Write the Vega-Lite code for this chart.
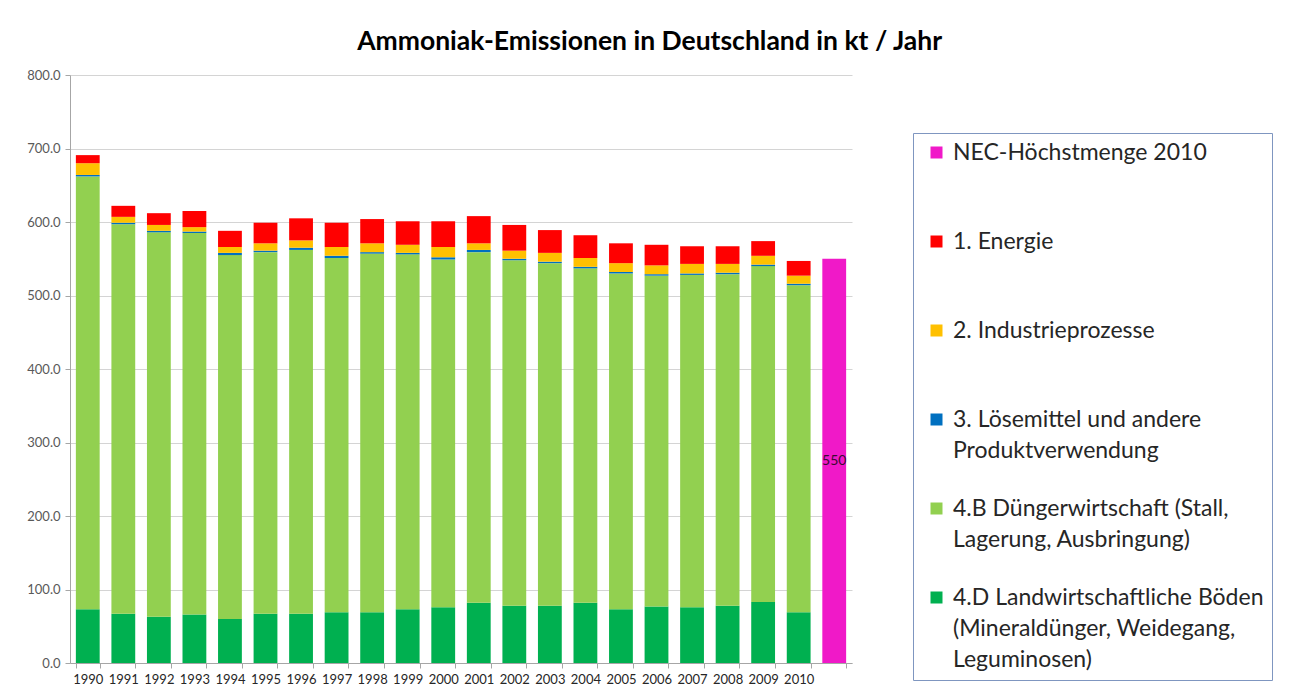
{
  "$schema": "https://vega.github.io/schema/vega-lite/v6.json",
  "width": 782,
  "height": 588,
  "padding": {"left": 26, "top": 28, "right": 5, "bottom": 5},
  "background": "white",
  "config": {
    "font": "Lato",
    "view": {"stroke": null},
    "style": {"guide-label": {"lineHeight": 31}}
  },
  "title": {
    "text": "Ammoniak-Emissionen in Deutschland in  kt / Jahr",
    "fontSize": 26.5,
    "fontWeight": "bold",
    "color": "#000000",
    "font": "Lato",
    "anchor": "middle",
    "frame": "bounds",
    "offset": 14
  },
  "data": {
    "values": [
      {"year": "1990", "category": "4.D Landwirtschaftliche Böden (Mineraldünger, Weidegang, Leguminosen)", "value": 73},
      {"year": "1990", "category": "4.B Düngerwirtschaft (Stall, Lagerung, Ausbringung)", "value": 589},
      {"year": "1990", "category": "3. Lösemittel und andere Produktverwendung", "value": 2},
      {"year": "1990", "category": "2. Industrieprozesse", "value": 16},
      {"year": "1990", "category": "1. Energie", "value": 11},
      {"year": "1991", "category": "4.D Landwirtschaftliche Böden (Mineraldünger, Weidegang, Leguminosen)", "value": 67},
      {"year": "1991", "category": "4.B Düngerwirtschaft (Stall, Lagerung, Ausbringung)", "value": 530},
      {"year": "1991", "category": "3. Lösemittel und andere Produktverwendung", "value": 2},
      {"year": "1991", "category": "2. Industrieprozesse", "value": 8},
      {"year": "1991", "category": "1. Energie", "value": 15},
      {"year": "1992", "category": "4.D Landwirtschaftliche Böden (Mineraldünger, Weidegang, Leguminosen)", "value": 63},
      {"year": "1992", "category": "4.B Düngerwirtschaft (Stall, Lagerung, Ausbringung)", "value": 523},
      {"year": "1992", "category": "3. Lösemittel und andere Produktverwendung", "value": 2},
      {"year": "1992", "category": "2. Industrieprozesse", "value": 8},
      {"year": "1992", "category": "1. Energie", "value": 16},
      {"year": "1993", "category": "4.D Landwirtschaftliche Böden (Mineraldünger, Weidegang, Leguminosen)", "value": 66},
      {"year": "1993", "category": "4.B Düngerwirtschaft (Stall, Lagerung, Ausbringung)", "value": 519},
      {"year": "1993", "category": "3. Lösemittel und andere Produktverwendung", "value": 2},
      {"year": "1993", "category": "2. Industrieprozesse", "value": 6},
      {"year": "1993", "category": "1. Energie", "value": 22},
      {"year": "1994", "category": "4.D Landwirtschaftliche Böden (Mineraldünger, Weidegang, Leguminosen)", "value": 60},
      {"year": "1994", "category": "4.B Düngerwirtschaft (Stall, Lagerung, Ausbringung)", "value": 495},
      {"year": "1994", "category": "3. Lösemittel und andere Produktverwendung", "value": 3},
      {"year": "1994", "category": "2. Industrieprozesse", "value": 8},
      {"year": "1994", "category": "1. Energie", "value": 22},
      {"year": "1995", "category": "4.D Landwirtschaftliche Böden (Mineraldünger, Weidegang, Leguminosen)", "value": 67},
      {"year": "1995", "category": "4.B Düngerwirtschaft (Stall, Lagerung, Ausbringung)", "value": 492},
      {"year": "1995", "category": "3. Lösemittel und andere Produktverwendung", "value": 2},
      {"year": "1995", "category": "2. Industrieprozesse", "value": 10},
      {"year": "1995", "category": "1. Energie", "value": 28},
      {"year": "1996", "category": "4.D Landwirtschaftliche Böden (Mineraldünger, Weidegang, Leguminosen)", "value": 67},
      {"year": "1996", "category": "4.B Düngerwirtschaft (Stall, Lagerung, Ausbringung)", "value": 495},
      {"year": "1996", "category": "3. Lösemittel und andere Produktverwendung", "value": 3},
      {"year": "1996", "category": "2. Industrieprozesse", "value": 10},
      {"year": "1996", "category": "1. Energie", "value": 30},
      {"year": "1997", "category": "4.D Landwirtschaftliche Böden (Mineraldünger, Weidegang, Leguminosen)", "value": 69},
      {"year": "1997", "category": "4.B Düngerwirtschaft (Stall, Lagerung, Ausbringung)", "value": 482},
      {"year": "1997", "category": "3. Lösemittel und andere Produktverwendung", "value": 3},
      {"year": "1997", "category": "2. Industrieprozesse", "value": 12},
      {"year": "1997", "category": "1. Energie", "value": 33},
      {"year": "1998", "category": "4.D Landwirtschaftliche Böden (Mineraldünger, Weidegang, Leguminosen)", "value": 69},
      {"year": "1998", "category": "4.B Düngerwirtschaft (Stall, Lagerung, Ausbringung)", "value": 488},
      {"year": "1998", "category": "3. Lösemittel und andere Produktverwendung", "value": 2},
      {"year": "1998", "category": "2. Industrieprozesse", "value": 12},
      {"year": "1998", "category": "1. Energie", "value": 33},
      {"year": "1999", "category": "4.D Landwirtschaftliche Böden (Mineraldünger, Weidegang, Leguminosen)", "value": 73},
      {"year": "1999", "category": "4.B Düngerwirtschaft (Stall, Lagerung, Ausbringung)", "value": 483},
      {"year": "1999", "category": "3. Lösemittel und andere Produktverwendung", "value": 2},
      {"year": "1999", "category": "2. Industrieprozesse", "value": 11},
      {"year": "1999", "category": "1. Energie", "value": 32},
      {"year": "2000", "category": "4.D Landwirtschaftliche Böden (Mineraldünger, Weidegang, Leguminosen)", "value": 76},
      {"year": "2000", "category": "4.B Düngerwirtschaft (Stall, Lagerung, Ausbringung)", "value": 473},
      {"year": "2000", "category": "3. Lösemittel und andere Produktverwendung", "value": 3},
      {"year": "2000", "category": "2. Industrieprozesse", "value": 14},
      {"year": "2000", "category": "1. Energie", "value": 35},
      {"year": "2001", "category": "4.D Landwirtschaftliche Böden (Mineraldünger, Weidegang, Leguminosen)", "value": 82},
      {"year": "2001", "category": "4.B Düngerwirtschaft (Stall, Lagerung, Ausbringung)", "value": 477},
      {"year": "2001", "category": "3. Lösemittel und andere Produktverwendung", "value": 3},
      {"year": "2001", "category": "2. Industrieprozesse", "value": 9},
      {"year": "2001", "category": "1. Energie", "value": 37},
      {"year": "2002", "category": "4.D Landwirtschaftliche Böden (Mineraldünger, Weidegang, Leguminosen)", "value": 78},
      {"year": "2002", "category": "4.B Düngerwirtschaft (Stall, Lagerung, Ausbringung)", "value": 470},
      {"year": "2002", "category": "3. Lösemittel und andere Produktverwendung", "value": 2},
      {"year": "2002", "category": "2. Industrieprozesse", "value": 11},
      {"year": "2002", "category": "1. Energie", "value": 35},
      {"year": "2003", "category": "4.D Landwirtschaftliche Böden (Mineraldünger, Weidegang, Leguminosen)", "value": 78},
      {"year": "2003", "category": "4.B Düngerwirtschaft (Stall, Lagerung, Ausbringung)", "value": 466},
      {"year": "2003", "category": "3. Lösemittel und andere Produktverwendung", "value": 2},
      {"year": "2003", "category": "2. Industrieprozesse", "value": 12},
      {"year": "2003", "category": "1. Energie", "value": 31},
      {"year": "2004", "category": "4.D Landwirtschaftliche Böden (Mineraldünger, Weidegang, Leguminosen)", "value": 82},
      {"year": "2004", "category": "4.B Düngerwirtschaft (Stall, Lagerung, Ausbringung)", "value": 455},
      {"year": "2004", "category": "3. Lösemittel und andere Produktverwendung", "value": 2},
      {"year": "2004", "category": "2. Industrieprozesse", "value": 12},
      {"year": "2004", "category": "1. Energie", "value": 31},
      {"year": "2005", "category": "4.D Landwirtschaftliche Böden (Mineraldünger, Weidegang, Leguminosen)", "value": 73},
      {"year": "2005", "category": "4.B Düngerwirtschaft (Stall, Lagerung, Ausbringung)", "value": 457},
      {"year": "2005", "category": "3. Lösemittel und andere Produktverwendung", "value": 2},
      {"year": "2005", "category": "2. Industrieprozesse", "value": 12},
      {"year": "2005", "category": "1. Energie", "value": 27},
      {"year": "2006", "category": "4.D Landwirtschaftliche Böden (Mineraldünger, Weidegang, Leguminosen)", "value": 77},
      {"year": "2006", "category": "4.B Düngerwirtschaft (Stall, Lagerung, Ausbringung)", "value": 450},
      {"year": "2006", "category": "3. Lösemittel und andere Produktverwendung", "value": 2},
      {"year": "2006", "category": "2. Industrieprozesse", "value": 12},
      {"year": "2006", "category": "1. Energie", "value": 28},
      {"year": "2007", "category": "4.D Landwirtschaftliche Böden (Mineraldünger, Weidegang, Leguminosen)", "value": 76},
      {"year": "2007", "category": "4.B Düngerwirtschaft (Stall, Lagerung, Ausbringung)", "value": 452},
      {"year": "2007", "category": "3. Lösemittel und andere Produktverwendung", "value": 2},
      {"year": "2007", "category": "2. Industrieprozesse", "value": 13},
      {"year": "2007", "category": "1. Energie", "value": 24},
      {"year": "2008", "category": "4.D Landwirtschaftliche Böden (Mineraldünger, Weidegang, Leguminosen)", "value": 78},
      {"year": "2008", "category": "4.B Düngerwirtschaft (Stall, Lagerung, Ausbringung)", "value": 451},
      {"year": "2008", "category": "3. Lösemittel und andere Produktverwendung", "value": 2},
      {"year": "2008", "category": "2. Industrieprozesse", "value": 12},
      {"year": "2008", "category": "1. Energie", "value": 24},
      {"year": "2009", "category": "4.D Landwirtschaftliche Böden (Mineraldünger, Weidegang, Leguminosen)", "value": 83},
      {"year": "2009", "category": "4.B Düngerwirtschaft (Stall, Lagerung, Ausbringung)", "value": 457},
      {"year": "2009", "category": "3. Lösemittel und andere Produktverwendung", "value": 2},
      {"year": "2009", "category": "2. Industrieprozesse", "value": 12},
      {"year": "2009", "category": "1. Energie", "value": 20},
      {"year": "2010", "category": "4.D Landwirtschaftliche Böden (Mineraldünger, Weidegang, Leguminosen)", "value": 69},
      {"year": "2010", "category": "4.B Düngerwirtschaft (Stall, Lagerung, Ausbringung)", "value": 445},
      {"year": "2010", "category": "3. Lösemittel und andere Produktverwendung", "value": 2},
      {"year": "2010", "category": "2. Industrieprozesse", "value": 11},
      {"year": "2010", "category": "1. Energie", "value": 20},
      {"year": "NEC", "category": "NEC-Höchstmenge 2010", "value": 550, "label": "550"}
    ]
  },
  "encoding": {
    "x": {
      "field": "year",
      "type": "nominal",
      "sort": null,
      "title": null,
      "scale": {"paddingInner": 0.33, "paddingOuter": 0.165},
      "axis": {
        "labelAngle": 0,
        "labelExpr": "datum.label == 'NEC' ? '' : datum.label",
        "labelFontSize": 13,
        "labelColor": "#262626",
        "labelPadding": 5,
        "tickBand": "extent",
        "tickSize": 5,
        "tickColor": "#a6a6a6",
        "domainColor": "#a6a6a6",
        "grid": false
      }
    }
  },
  "layer": [
    {
      "mark": {"type": "bar"},
      "encoding": {
        "y": {
          "field": "value",
          "type": "quantitative",
          "stack": "zero",
          "title": null,
          "scale": {"domain": [0, 800]},
          "axis": {
            "values": [0, 100, 200, 300, 400, 500, 600, 700, 800],
            "format": ".1f",
            "labelFontSize": 13,
            "labelColor": "#595959",
            "labelPadding": 5,
            "tickSize": 5,
            "tickColor": "#a6a6a6",
            "domainColor": "#a6a6a6",
            "gridColor": "#d4d4d4"
          }
        },
        "color": {
          "field": "category",
          "type": "nominal",
          "scale": {
            "domain": [
              "NEC-Höchstmenge 2010",
              "1. Energie",
              "2. Industrieprozesse",
              "3. Lösemittel und andere Produktverwendung",
              "4.B Düngerwirtschaft (Stall, Lagerung, Ausbringung)",
              "4.D Landwirtschaftliche Böden (Mineraldünger, Weidegang, Leguminosen)"
            ],
            "range": ["#F019C8", "#FF0000", "#FFC000", "#0070C0", "#92D050", "#00B050"]
          },
          "legend": {
            "title": null,
            "orient": "none",
            "legendX": 843,
            "legendY": 58,
            "direction": "vertical",
            "symbolType": "square",
            "symbolSize": 144,
            "symbolStrokeWidth": 0,
            "symbolOffset": 4,
            "labelFontSize": 23,
            "labelColor": "#262626",
            "labelBaseline": "middle",
            "labelLimit": 400,
            "labelOffset": 5,
            "rowPadding": 3,
            "padding": 8,
            "strokeColor": "#7F96C0",
            "labelExpr": "datum.label == '3. Lösemittel und andere Produktverwendung' ? ['3. Lösemittel und andere', 'Produktverwendung', ''] : datum.label == '4.B Düngerwirtschaft (Stall, Lagerung, Ausbringung)' ? ['4.B Düngerwirtschaft (Stall,', 'Lagerung, Ausbringung)', ''] : datum.label == '4.D Landwirtschaftliche Böden (Mineraldünger, Weidegang, Leguminosen)' ? ['4.D Landwirtschaftliche Böden', '(Mineraldünger, Weidegang,', 'Leguminosen)'] : [datum.label, '', '']"
          }
        },
        "order": {"field": "category", "sort": "descending"}
      }
    },
    {
      "transform": [{"filter": "datum.label != null"}],
      "mark": {"type": "text", "fontSize": 14, "color": "#3a0a33", "baseline": "middle", "align": "center"},
      "encoding": {
        "y": {"datum": 275},
        "text": {"field": "label"}
      }
    }
  ]
}
